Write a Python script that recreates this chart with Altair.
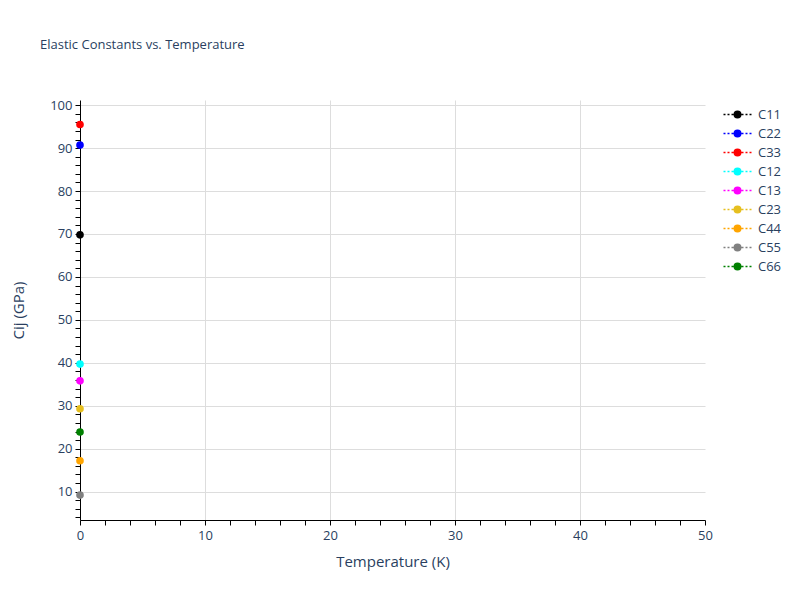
import altair as alt
import pandas as pd

# elastic constants at each temperature (only T = 0 K was computed)
series = ["C11", "C22", "C33", "C12", "C13", "C23", "C44", "C55", "C66"]
temperature = [0, 0, 0, 0, 0, 0, 0, 0, 0]
cij = [69.8, 90.7, 95.5, 39.7, 35.8, 29.3, 17.2, 9.2, 23.9]
colors = ["black", "blue", "red", "cyan", "magenta", "#e6bf1f",
          "orange", "gray", "green"]

FONT = "Open Sans"
TXT = "#2a3f5f"

df = pd.DataFrame({"series": series, "T": temperature, "Cij": cij})

# dotted line with a dot in the middle, as a legend symbol
# (drawn wider than the nominal symbol box so rows stay tight)
legend_symbol = (
    "M-2.8,0H-2.4M-2,0H-1.6M-1.2,0H-0.8"
    "M0.8,0H1.2M1.6,0H2M2.4,0H2.8"
    "M-0.64,0A0.64,0.64,0,1,1,0.64,0A0.64,0.64,0,1,1,-0.64,0Z"
)

color_scale = alt.Scale(domain=series, range=colors)
legend = alt.Legend(
    title=None, orient="none", legendX=651, legendY=8, padding=0,
    symbolType=legend_symbol, symbolSize=100, symbolStrokeWidth=1.6,
    labelFont=FONT, labelFontSize=13, labelColor=TXT, labelOffset=14,
    rowPadding=5,
)


def grid_test(lo, hi):
    return {
        "condition": {
            "test": f"datum.value % 10 === 0 && datum.value > {lo} && datum.value < {hi}",
            "value": 1,
        },
        "value": 0,
    }


axis_style = dict(
    domainColor="black", tickColor="black", tickSize=5, gridColor="#dddddd",
    labelFont=FONT, labelFontSize=13, labelColor=TXT, labelOverlap=False,
    labelFlush=False,
    titleFont=FONT, titleFontSize=15, titleColor=TXT, titleFontWeight="normal",
    labelExpr="datum.value % 10 === 0 ? datum.label : ''",
)

chart = alt.Chart(df).mark_point(filled=True, size=32, opacity=1).encode(
    x=alt.X(
        "T:Q", title="Temperature (K)",
        scale=alt.Scale(domain=[0, 50], nice=False, zero=False),
        axis=alt.Axis(values=list(range(0, 51, 2)), gridOpacity=grid_test(0, 50),
                      labelPadding=4, titlePadding=12, **axis_style),
    ),
    y=alt.Y(
        "Cij:Q", title="Cij (GPa)",
        scale=alt.Scale(domain=[3.4, 101.2], nice=False, zero=False),
        axis=alt.Axis(values=list(range(4, 101, 2)), gridOpacity=grid_test(0, 101),
                      labelPadding=3, titlePadding=23, **axis_style),
    ),
    fill=alt.Fill("series:N", scale=color_scale, legend=legend),
    stroke=alt.Stroke("series:N", scale=color_scale, legend=legend),
).properties(
    width=625,
    height=420,
    title=alt.TitleParams(
        "Elastic Constants vs. Temperature", anchor="start", frame="group",
        dx=-40, offset=47, font=FONT, fontSize=13, fontWeight="normal", color=TXT,
    ),
    autosize=alt.AutoSizeParams(type="none"),
    padding={"left": 72, "top": 92, "right": 87, "bottom": 72},
).configure_view(stroke=None)

chart.save("out.html", embed_options={"renderer": "svg", "actions": False})
